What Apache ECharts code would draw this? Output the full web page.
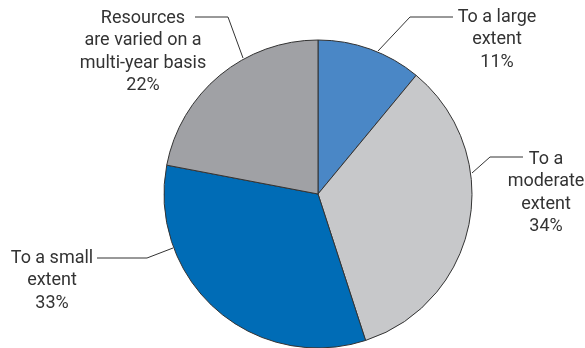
<!DOCTYPE html>
<html>
<head>
<meta charset="utf-8">
<script src="https://cdn.jsdelivr.net/npm/echarts@6/dist/echarts.min.js"></script>
<style>
  html, body { margin: 0; padding: 0; background: #fff; }
  #pie { width: 585px; height: 348px; }
</style>
</head>
<body>
<div id="pie"></div>
<script>
// data
var names = ['To a large\nextent', 'To a\nmoderate\nextent', 'To a small\nextent', 'Resources\nare varied on a\nmulti-year basis'];
var values = [11, 34, 33, 22];
var colors = ['#4a87c6', '#c7c8ca', '#006cb6', '#a0a1a5'];

// where each label sits and how its leader line runs (pixels)
var labelPos = [
  { x: 497, y: 6, line: [[378, 51], [410, 17], [453, 17]] },
  { x: 546, y: 148, line: [[472, 173], [490, 157], [523, 157]] },
  { x: 52, y: 247, line: [[173, 248], [147, 258], [97, 258]] },
  { x: 143, y: 7, line: [[243, 58], [228, 17], [195, 17]] }
];

var chart = echarts.init(document.getElementById('pie'));

chart.setOption({
  animation: false,
  color: colors,
  series: [
    {
      type: 'pie',
      center: [318, 194],
      radius: 154,
      startAngle: 90,
      clockwise: true,
      itemStyle: {
        borderColor: '#333',
        borderWidth: 1
      },
      label: {
        show: true,
        formatter: '{b}\n{c}%',
        color: '#333',
        fontFamily: 'Roboto',
        fontSize: 18,
        lineHeight: 22.5,
        align: 'center',
        overflow: 'none'
      },
      labelLine: {
        show: true,
        lineStyle: { color: '#333', width: 1 }
      },
      labelLayout: function (params) {
        var p = labelPos[params.dataIndex];
        return {
          x: p.x,
          y: p.y,
          align: 'center',
          verticalAlign: 'top',
          labelLinePoints: p.line
        };
      },
      emphasis: { disabled: true },
      data: names.map(function (n, i) {
        return { name: n, value: values[i] };
      })
    }
  ]
});
</script>
</body>
</html>
